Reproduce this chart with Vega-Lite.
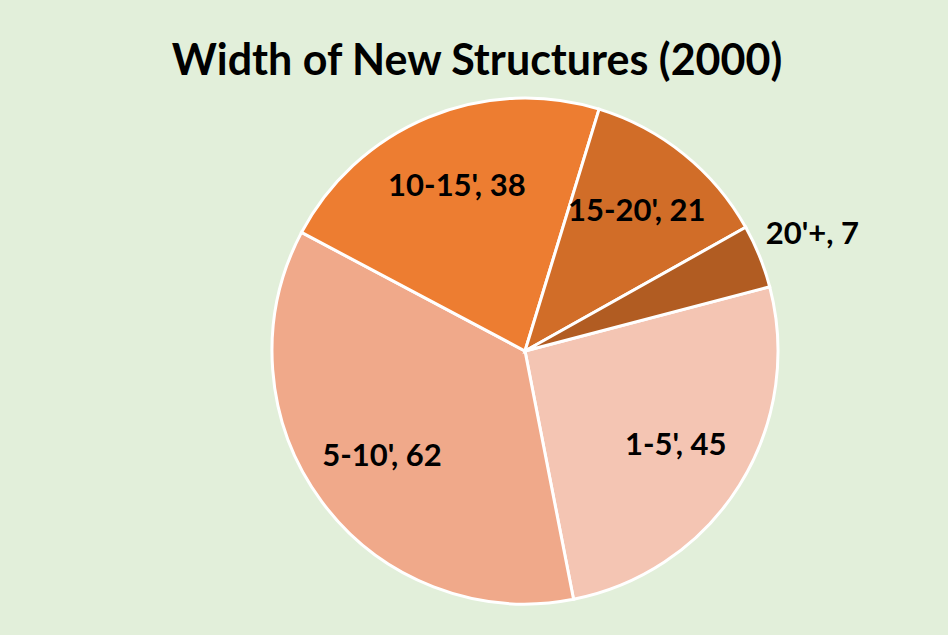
{
  "$schema": "https://vega.github.io/schema/vega-lite/v6.json",
  "autosize": "none",
  "width": 506,
  "height": 506,
  "padding": {"left": 272, "top": 98, "right": 170, "bottom": 31},
  "background": "#E2EFDA",
  "title": {
    "text": "Width of New Structures (2000)",
    "font": "Lato",
    "fontSize": 43,
    "fontWeight": "bold",
    "color": "#000000",
    "anchor": "middle",
    "dx": -48,
    "dy": 51,
    "offset": 16
  },
  "data": {
    "values": [
      {"rank": 1, "width": "1-5'", "count": 45, "label": "1-5', 45"},
      {"rank": 2, "width": "5-10'", "count": 62, "label": "5-10', 62"},
      {"rank": 3, "width": "10-15'", "count": 38, "label": "10-15', 38"},
      {"rank": 4, "width": "15-20'", "count": 21, "label": "15-20', 21"},
      {"rank": 5, "width": "20'+", "count": 7, "label": "20'+, 7"}
    ]
  },
  "encoding": {
    "theta": {"field": "count", "type": "quantitative", "stack": true, "scale": {"range": [1.3142, 7.5974]}},
    "order": {"field": "rank", "type": "quantitative"}
  },
  "layer": [
    {
      "mark": {"type": "arc", "stroke": "#FFFFFF", "strokeWidth": 3},
      "encoding": {
        "color": {
          "field": "width",
          "type": "nominal",
          "scale": {
            "domain": ["1-5'", "5-10'", "10-15'", "15-20'", "20'+"],
            "range": ["#F4C5B3", "#F0A98A", "#ED7D31", "#D16D28", "#B15C22"]
          },
          "legend": null
        }
      }
    },
    {
      "mark": {"type": "text", "radius": 178, "font": "Lato", "fontSize": 31, "fontWeight": "bold", "color": "#000000"},
      "encoding": {
        "text": {"field": "label", "type": "nominal"},
        "opacity": {"condition": {"test": "datum.width === \"20'+\"", "value": 0}, "value": 1}
      }
    },
    {
      "mark": {"type": "text", "radius": 310, "font": "Lato", "fontSize": 31, "fontWeight": "bold", "color": "#000000"},
      "encoding": {
        "text": {"field": "label", "type": "nominal"},
        "opacity": {"condition": {"test": "datum.width === \"20'+\"", "value": 1}, "value": 0}
      }
    }
  ]
}
